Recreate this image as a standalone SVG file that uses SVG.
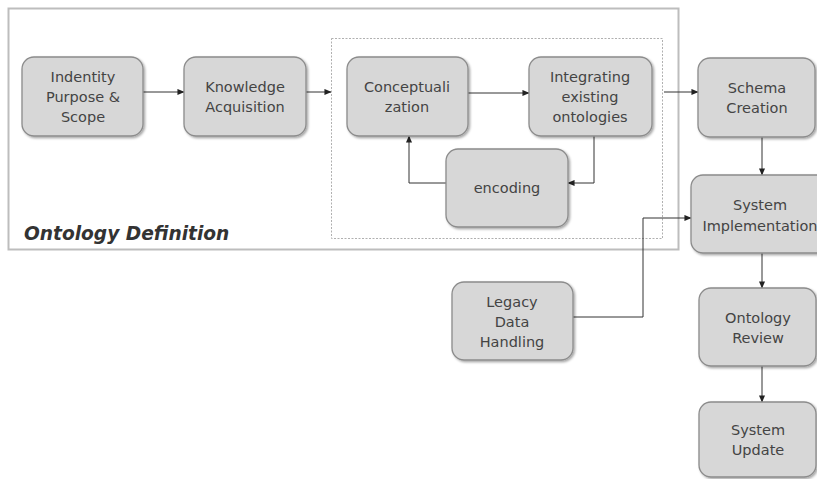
<svg xmlns="http://www.w3.org/2000/svg" width="817" height="479" viewBox="0 0 817 479">
  <defs>
    <marker id="arrow" viewBox="0 0 8 8" refX="7.5" refY="4" markerWidth="7" markerHeight="7" markerUnits="userSpaceOnUse" orient="auto">
      <path d="M0,0.5 L8,4 L0,7.5 z" fill="#222"/>
    </marker>
    <filter id="shadow" x="-10%" y="-10%" width="130%" height="130%">
      <feDropShadow dx="1.5" dy="1.5" stdDeviation="1" flood-color="#000" flood-opacity="0.35"/>
    </filter>
  </defs>
  <style>
    .node rect { fill: #d7d7d7; stroke: #8c8c8c; stroke-width: 1.3; filter: url(#shadow); }
    .node text { font-family: "DejaVu Sans", Verdana, sans-serif; font-size: 14.5px; fill: #444; text-anchor: middle; }
    .edge { fill: none; stroke: #333; stroke-width: 1; marker-end: url(#arrow); }
    .title { font-family: "DejaVu Sans", Verdana, sans-serif; font-size: 18.6px; font-weight: bold; font-style: italic; fill: #333; }
  </style>

  <rect width="817" height="479" fill="#fff"/>

  <!-- containers -->
  <g id="ontology-definition">
    <rect x="8.5" y="8.5" width="670" height="241" fill="none" stroke="#bdbdbd" stroke-width="2"/>
    <text class="title" x="24" y="240">Ontology Definition</text>
  </g>
  <g id="modelling-loop">
    <rect x="331.5" y="38.5" width="331" height="200" fill="none" stroke="#b0b0b0" stroke-width="1" stroke-dasharray="2,1.5"/>
  </g>

  <!-- connectors -->
  <g id="connectors">
    <path class="edge" d="M143,92 H184"/>
    <path class="edge" d="M306,92 H331"/>
    <path class="edge" d="M468,93 H529"/>
    <path class="edge" d="M594,136 V183 H568"/>
    <path class="edge" d="M446,183 H409 V136"/>
    <path class="edge" d="M664,92 H698"/>
    <path class="edge" d="M762,137 V175"/>
    <path class="edge" d="M573,317 H643 V218 H691"/>
    <path class="edge" d="M762,253 V288"/>
    <path class="edge" d="M762,366 V402"/>
  </g>

  <!-- nodes -->
  <g id="identity" class="node">
    <rect x="22" y="57" width="121" height="79" rx="12"/>
    <text x="83" y="82">Indentity</text>
    <text x="83" y="102">Purpose &amp;</text>
    <text x="83" y="122">Scope</text>
  </g>
  <g id="knowledge" class="node">
    <rect x="184" y="57" width="122" height="79" rx="12"/>
    <text x="245" y="92">Knowledge</text>
    <text x="245" y="112">Acquisition</text>
  </g>
  <g id="conceptualization" class="node">
    <rect x="347" y="57" width="121" height="79" rx="12"/>
    <text x="407" y="92">Conceptuali</text>
    <text x="407" y="112">zation</text>
  </g>
  <g id="integrating" class="node">
    <rect x="529" y="57" width="123" height="79" rx="12"/>
    <text x="590" y="82">Integrating</text>
    <text x="590" y="102">existing</text>
    <text x="590" y="122">ontologies</text>
  </g>
  <g id="encoding" class="node">
    <rect x="446" y="149" width="122" height="78" rx="12"/>
    <text x="507" y="193">encoding</text>
  </g>
  <g id="schema" class="node">
    <rect x="698" y="58" width="117" height="79" rx="12"/>
    <text x="757" y="93">Schema</text>
    <text x="757" y="113">Creation</text>
  </g>
  <g id="implementation" class="node">
    <rect x="691" y="175" width="138" height="78" rx="12"/>
    <text x="760" y="210">System</text>
    <text x="760" y="231">Implementation</text>
  </g>
  <g id="legacy" class="node">
    <rect x="452" y="282" width="121" height="78" rx="12"/>
    <text x="512" y="307">Legacy</text>
    <text x="512" y="327">Data</text>
    <text x="512" y="347">Handling</text>
  </g>
  <g id="review" class="node">
    <rect x="699" y="288" width="117" height="78" rx="12"/>
    <text x="758" y="323">Ontology</text>
    <text x="758" y="343">Review</text>
  </g>
  <g id="update" class="node">
    <rect x="699" y="402" width="117" height="75" rx="12"/>
    <text x="758" y="435">System</text>
    <text x="758" y="455">Update</text>
  </g>
</svg>
